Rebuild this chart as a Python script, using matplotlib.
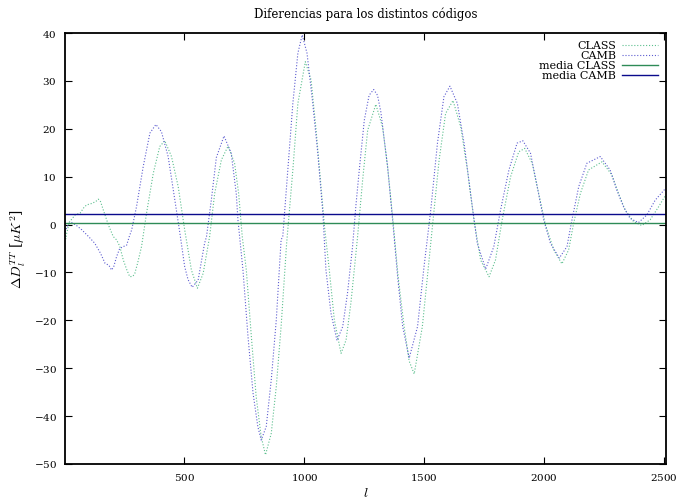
import numpy as np
import matplotlib.pyplot as plt

# Diferencias Delta D_l^TT
l_class = [2, 5, 9, 20, 44, 65, 80, 92, 113, 130, 141, 150, 162, 183, 203, 217, 230,
           245, 260, 272, 285, 293, 305, 321, 342, 370, 397, 418, 446, 474, 501, 529,
           554, 578, 605, 626, 654, 682, 709, 726, 741, 758, 779, 799, 820, 838, 862,
           883, 903, 926, 952, 973, 1004, 1028, 1049, 1067, 1084, 1104, 1125, 1153,
           1174, 1194, 1215, 1222, 1243, 1264, 1298, 1326, 1347, 1370, 1391, 1416,
           1437, 1458, 1492, 1513, 1534, 1562, 1589, 1620, 1652, 1680, 1707, 1735,
           1770, 1797, 1825, 1860, 1894, 1919, 1950, 1977, 2005, 2040, 2074, 2102,
           2123, 2151, 2185, 2241, 2282, 2310, 2338, 2373, 2407, 2442, 2477, 2507]
d_class = [-1.0, -3.0, -1.8, 0.5, 2.0, 2.4, 3.5, 4.1, 4.4, 4.8, 5.3, 4.8, 3.0, -0.1,
           -2.5, -3.2, -4.5, -7.4, -9.5, -10.9, -10.8, -10.2, -8.0, -4.6, 2.4, 10.7,
           16.3, 17.5, 14.2, 7.9, -1.1, -9.5, -13.3, -10.2, -2.5, 6.5, 13.5, 16.4,
           12.8, 6.5, -2.5, -9.5, -23.4, -35.9, -44.3, -48.1, -43.6, -33.8, -21.3,
           -4.0, 11.4, 25.3, 34.0, 30.2, 19.7, 9.3, -0.4, -9.5, -19.9, -26.9, -24.1,
           -16.4, -6.0, -2.5, 9.3, 19.7, 25.1, 20.4, 12.1, 0.5, -10.9, -21.3, -28.5,
           -31.2, -21.3, -10.9, -0.4, 13.5, 23.2, 25.9, 20.4, 11.4, 1.0, -7.4, -10.9,
           -7.4, 1.0, 10.0, 15.2, 15.9, 12.8, 6.5, 0.0, -5.3, -8.2, -5.3, 0.3, 6.5,
           11.4, 13.1, 10.4, 6.5, 3.0, 0.6, -0.2, 1.0, 3.7, 6.2]

l_camb = [2, 10, 20, 30, 50, 72, 100, 126, 150, 169, 185, 196, 205, 217, 230, 245,
          259, 270, 280, 300, 328, 356, 381, 404, 432, 460, 481, 501, 515, 532, 557,
          584, 592, 612, 633, 665, 695, 716, 723, 744, 765, 786, 806, 820, 841, 862,
          883, 903, 910, 931, 952, 973, 991, 1011, 1035, 1056, 1077, 1090, 1111,
          1136, 1160, 1180, 1201, 1215, 1229, 1250, 1270, 1289, 1305, 1319, 1347,
          1368, 1389, 1410, 1437, 1472, 1499, 1527, 1555, 1582, 1607, 1638, 1666,
          1693, 1721, 1756, 1790, 1818, 1853, 1887, 1911, 1943, 1971, 1998, 2026,
          2063, 2095, 2116, 2144, 2178, 2234, 2275, 2303, 2331, 2358, 2393, 2428,
          2463, 2507]
d_camb = [-1.5, -0.5, 0.3, 0.4, -0.2, -1.1, -2.5, -3.9, -6.0, -8.1, -8.5, -9.5,
          -8.8, -6.7, -5.0, -4.6, -4.3, -2.5, -1.1, 3.7, 12.1, 19.1, 20.9, 19.4,
          14.2, 5.1, -1.8, -8.8, -11.5, -13.1, -11.6, -3.9, -2.5, 5.1, 14.0, 18.5,
          14.9, 6.5, 1.0, -9.5, -23.4, -35.2, -42.2, -45.0, -42.2, -32.4, -19.9,
          -3.2, -2.5, 11.4, 25.3, 35.8, 39.6, 35.8, 25.3, 14.9, 2.5, -9.5, -18.5,
          -24.2, -21.3, -14.3, -4.6, 4.0, 11.4, 21.8, 27.0, 28.2, 27.0, 23.5, 12.1,
          1.0, -10.9, -21.3, -27.9, -21.3, -8.8, 3.0, 17.0, 26.7, 28.9, 25.3, 17.0,
          6.5, -3.9, -9.3, -4.6, 3.0, 11.4, 17.0, 17.5, 14.9, 7.9, 1.0, -3.9, -7.0,
          -4.6, 1.0, 7.9, 12.8, 14.2, 11.4, 7.2, 3.7, 1.3, 0.4, 2.0, 5.1, 7.6]

media_class = 0.25
media_camb = 2.1

plt.rcParams['font.family'] = ['DejaVu Serif']
plt.rcParams['mathtext.fontset'] = 'cm'
plt.rcParams['axes.formatter.use_mathtext'] = True

fig = plt.figure(figsize=(6.78, 5.04), dpi=100)
ax = fig.add_axes([0.0959, 0.0794, 0.8864, 0.8551])

ax.plot(l_class, d_class, ':', color='#5cbf8e', lw=0.8, label='CLASS')
ax.plot(l_camb, d_camb, ':', color='#5c5cd0', lw=0.8, label='CAMB')
ax.axhline(media_class, color='#2e8b57', lw=1.0, label='media CLASS')
ax.axhline(media_camb, color='#0a0a8c', lw=1.0, label='media CAMB')

ax.set_xlim(2, 2508)
ax.set_ylim(-50, 40)
ax.set_xticks([500, 1000, 1500, 2000, 2500])
ax.set_yticks(np.arange(-50, 41, 10))
ax.tick_params(direction='in', top=True, right=True, length=5, labelsize=7.5, pad=6)
for s in ax.spines.values():
    s.set_linewidth(1.3)

ax.set_title('Diferencias para los distintos códigos', fontsize=8.5, pad=10.5)
ax.set_xlabel('$l$', fontsize=10, labelpad=2)
ax.set_ylabel(r'$\Delta D_l^{TT}$ [$\mu K^2$]', fontsize=10, labelpad=4)

leg = ax.legend(loc='upper right', frameon=False, markerfirst=False, fontsize=8,
                handlelength=3.3, labelspacing=0.0, borderaxespad=0.4,
                handletextpad=0.5, borderpad=0.3)

fig.savefig('out.png', dpi=100)
